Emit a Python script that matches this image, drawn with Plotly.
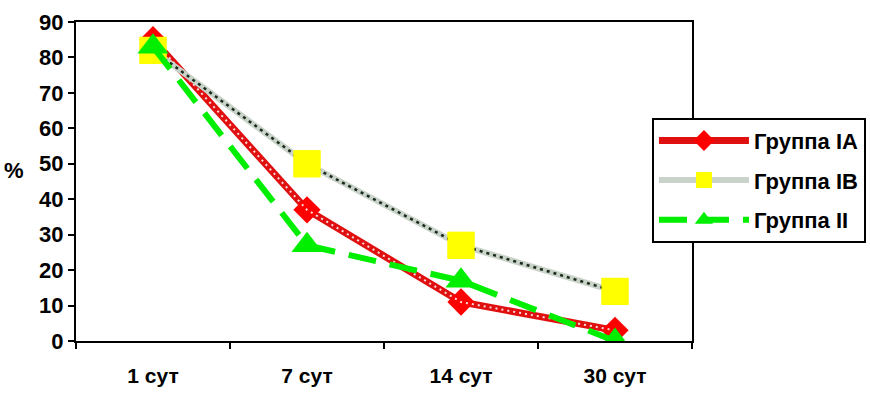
import plotly.graph_objects as go

# Days after treatment and share of patients (%) per group
categories = ["1 сут", "7 сут", "14 сут", "30 сут"]
group_ia = [85, 37, 11, 3]
group_ib = [82, 50, 27, 14]
group_ii = [83, 27, 17, 0]
y_ticks = [0, 10, 20, 30, 40, 50, 60, 70, 80, 90]

FONT = "Liberation Sans, Arial, sans-serif"

fig = go.Figure()

# Группа IA: thick red band with a white dotted core
fig.add_trace(go.Scatter(
    x=categories, y=group_ia, name="Группа IA", mode="lines+markers",
    legendgroup="ia",
    line=dict(color="#e01010", width=7),
    marker=dict(symbol="diamond", size=21, color="#ff0000"),
))
fig.add_trace(go.Scatter(
    x=categories, y=group_ia, mode="lines", showlegend=False, hoverinfo="skip",
    legendgroup="ia",
    line=dict(color="rgba(255,255,255,0.85)", width=2, dash="2px,4px"),
))

# Группа IB: pale grey band with dark dots
fig.add_trace(go.Scatter(
    x=categories, y=group_ib, name="Группа IB", mode="lines+markers",
    legendgroup="ib",
    line=dict(color="#c9d3c9", width=6),
    marker=dict(symbol="square", size=27, color="#ffff00"),
))
fig.add_trace(go.Scatter(
    x=categories, y=group_ib, mode="lines", showlegend=False, hoverinfo="skip",
    legendgroup="ib",
    line=dict(color="#1a2a1a", width=2.5, dash="3px,4px"),
))
fig.add_trace(go.Scatter(
    x=categories, y=group_ib, mode="markers", showlegend=False, hoverinfo="skip",
    legendgroup="ib",
    marker=dict(symbol="square", size=27, color="#ffff00"),
))

# Группа II: long green dashes
fig.add_trace(go.Scatter(
    x=categories, y=group_ii, name="Группа II", mode="lines+markers",
    legendgroup="ii",
    line=dict(color="#00ee00", width=6, dash="28px,14px"),
    marker=dict(symbol="triangle-up", size=27, color="#00ee00"),
))

fig.update_layout(
    width=870, height=394,
    margin=dict(l=76, r=178, t=22, b=53, autoexpand=False),
    paper_bgcolor="white", plot_bgcolor="white",
    font=dict(family=FONT, size=20, color="black"),
    showlegend=True,
    legend=dict(
        x=0.935, xanchor="left", y=0.70, yanchor="top",
        bordercolor="black", borderwidth=2, bgcolor="white",
        font=dict(family=FONT, size=22, color="black", weight="bold"),
        itemwidth=90, traceorder="grouped", tracegroupgap=8,
    ),
)

fig.update_xaxes(
    type="category", range=[-0.5, 3.5], automargin=False,
    showline=True, linecolor="black", linewidth=2, mirror=True,
    ticks="outside", ticklen=6, tickwidth=2, tickcolor="black",
    tickson="boundaries", ticklabelstandoff=15,
    tickfont=dict(family=FONT, size=21, weight="bold"),
    showgrid=False, zeroline=False,
)
fig.update_yaxes(
    range=[0, 90], tickvals=y_ticks, automargin=False,
    showline=True, linecolor="black", linewidth=2, mirror=True,
    ticks="outside", ticklen=6, tickwidth=2, tickcolor="black",
    tickfont=dict(family=FONT, size=22, weight="bold"),
    showgrid=False, zeroline=False,
)

fig.add_annotation(
    text="%", xref="paper", yref="paper", x=-0.1, y=0.535,
    xanchor="center", yanchor="middle", showarrow=False,
    font=dict(family=FONT, size=22, weight="bold"),
)

fig.write_html("out.html")
